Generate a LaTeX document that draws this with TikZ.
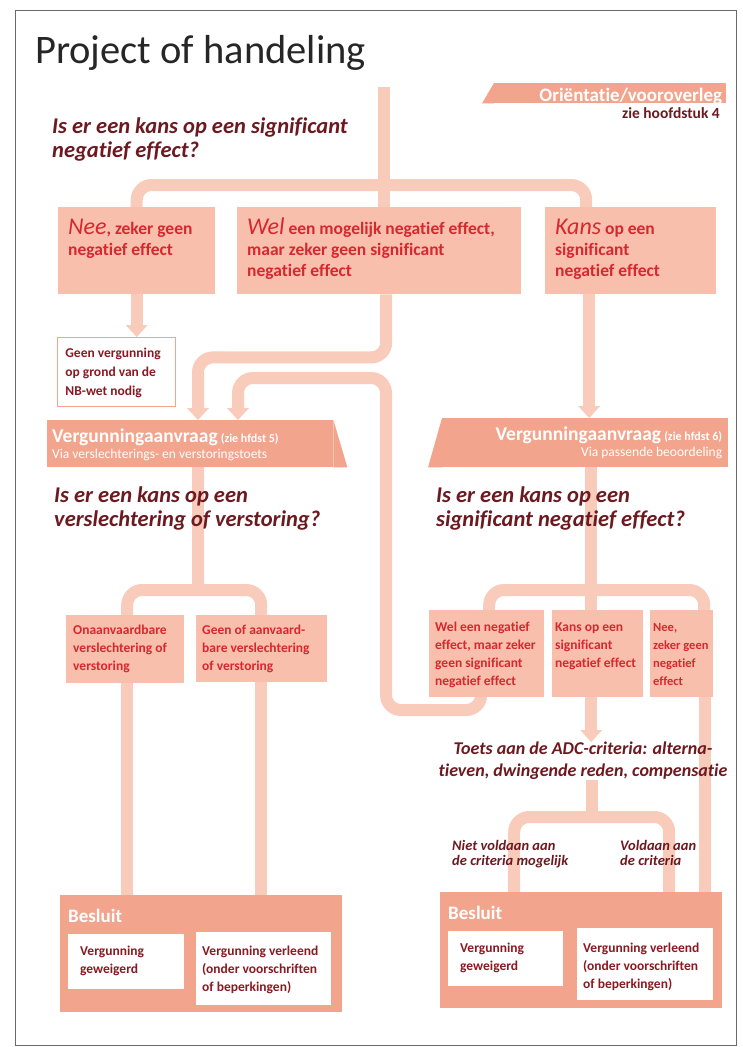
\documentclass[tikz,border=0pt]{standalone}
\usepackage{fontspec}
\setmainfont{Carlito}[Ligatures={NoCommon}]
\usetikzlibrary{arrows.meta,backgrounds}
\definecolor{lnc}{HTML}{F8CBBB}
\definecolor{boxc}{HTML}{F8BFAD}
\definecolor{barc}{HTML}{F2A48C}
\definecolor{redt}{HTML}{D6282E}
\definecolor{qtc}{HTML}{6C1A20}
\definecolor{wtc}{HTML}{8A1A22}
\definecolor{frc}{HTML}{6A6A6A}
\newcommand{\bx}[4]{\parbox[t][#2][t]{#1}{\raggedright\rule{0pt}{#3}#4}}
\newcommand{\tx}[3]{\parbox[t]{#1}{\raggedright\rule{0pt}{#2}#3}}
\newcommand{\bigit}{\fontsize{24}{21}\mdseries\itshape\selectfont}
\begin{document}
\begin{tikzpicture}[x=1pt,y=-1pt,
 lnk/.style={draw=lnc, line width=12pt, rounded corners=15pt},
 arr/.style={lnk, -{Triangle[width=22pt,length=12pt,line width=0pt]}},
 fbox/.style={fill=boxc, inner ysep=0pt, anchor=north west, text=redt},
 topt/.style={font=\fontsize{17.5}{21}\bfseries\selectfont},
 lowt/.style={font=\fontsize{13.5}{18}\bfseries\selectfont},
 wbox/.style={fill=white, inner ysep=0pt, anchor=north west, text=wtc, font=\fontsize{13.5}{18}\bfseries\selectfont},
 bar/.style={fill=barc, inner ysep=0pt, anchor=north west, text=white},
 qst/.style={inner sep=0pt, anchor=north west, text=qtc, font=\fontsize{22.5}{24}\bfseries\itshape\selectfont},
 lbl/.style={inner sep=0pt, anchor=north west, text=qtc, font=\fontsize{14.5}{15.5}\bfseries\itshape\selectfont}
]
\useasboundingbox (0,0) rectangle (742,1047);
\draw[frc, line width=0.8pt] (15,10) rectangle (736,1045);

\node[anchor=base west, inner sep=0pt, text=black!85, font=\fontsize{40.5}{44}\selectfont] (title) at (35,63) {Project of handeling};

% tag
\node[bar, inner xsep=4pt, font=\fontsize{19}{20}\bfseries\selectfont] (tag) at (494,83) {\bx{224pt}{20pt}{18pt}{\raggedleft Oriëntatie/vooroverleg}};
\fill[barc] (tag.south west) -- ([xshift=-12pt]tag.south west) -- (tag.north west) -- cycle;
\node[anchor=base east, inner sep=0pt, text=qtc, font=\fontsize{15.5}{18}\bfseries\selectfont] (zie) at (720,118) {zie hoofdstuk 4};

\node[qst] (q1) at (52,113) {\tx{330pt}{20pt}{Is er een kans op een significant\\negatief effect?}};

% first level boxes
\node[fbox, topt, inner xsep=10pt] (A) at (58,207) {\bx{137pt}{87pt}{27pt}{{\bigit Nee}, zeker geen\\negatief effect}};
\node[fbox, topt, inner xsep=10pt] (B) at (237,207) {\bx{264pt}{87pt}{27pt}{{\bigit Wel} een mogelijk negatief effect,\\maar zeker geen significant\\negatief effect}};
\node[fbox, topt, inner xsep=10pt] (C) at (545,207) {\bx{151pt}{87pt}{27pt}{{\bigit Kans} op een\\significant\\negatief effect}};

\node[wbox, draw=barc, line width=0.8pt, inner xsep=8pt, font=\fontsize{13.5}{19}\bfseries\selectfont] (D) at (57,337) {\bx{102pt}{69pt}{20pt}{Geen vergunning\\op grond van de\\NB-wet nodig}};

% application bars
\node[bar, inner xsep=5pt, font=\fontsize{13.5}{16}\selectfont] (LV) at (47,420) {\bx{276pt}{47pt}{22pt}{{\fontsize{19.5}{16}\bfseries\selectfont Vergunningaanvraag} {\fontsize{12}{16}\bfseries\selectfont(zie hfdst 5)}\\Via verslechterings- en verstoringstoets}};
\fill[barc] (LV.north east) -- ([xshift=14pt]LV.south east) -- (LV.south east) -- cycle;
\node[bar, inner xsep=6pt, font=\fontsize{13.5}{16}\selectfont] (RV) at (442,418) {\bx{274pt}{49pt}{22pt}{\raggedleft{\fontsize{19.5}{16}\bfseries\selectfont Vergunningaanvraag} {\fontsize{12}{16}\bfseries\selectfont(zie hfdst 6)}\\Via passende beoordeling}};
\fill[barc] (RV.north west) -- ([xshift=-14pt]RV.south west) -- (RV.south west) -- cycle;

\node[qst] (q2l) at (54,482) {\tx{320pt}{20pt}{Is er een kans op een\\verslechtering of verstoring?}};
\node[qst] (q2r) at (436,482) {\tx{295pt}{20pt}{Is er een kans op een\\significant negatief effect?}};

% lower boxes
\node[fbox, lowt, inner xsep=7pt] (LO) at (66,615) {\bx{104pt}{68pt}{19pt}{Onaanvaardbare\\verslechtering of\\verstoring}};
\node[fbox, lowt, inner xsep=6pt] (LG) at (196,615) {\bx{119pt}{67pt}{19pt}{Geen of aanvaard-\\bare verslechtering\\of verstoring}};
\node[fbox, lowt, inner xsep=6pt] (RW) at (429,610) {\bx{103pt}{87pt}{21pt}{Wel een negatief\\effect, maar zeker\\geen significant\\negatief effect}};
\node[fbox, lowt, inner xsep=3pt] (RK) at (552,610) {\bx{85pt}{87pt}{21pt}{Kans op een\\significant\\negatief effect}};
\node[fbox, inner xsep=3pt, font=\fontsize{12.5}{18}\bfseries\selectfont] (RN) at (650,610) {\bx{57pt}{87pt}{21pt}{Nee,\\zeker geen\\negatief\\effect}};

\node[inner sep=0pt, anchor=north, align=center, text=qtc, font=\fontsize{18}{22}\bfseries\itshape\selectfont] (toets) at (583,742) {Toets aan de ADC-criteria: alterna-\\tieven, dwingende reden, compensatie};

\node[lbl] (nv) at (452,837) {\tx{130pt}{13pt}{Niet voldaan aan\\de criteria mogelijk}};
\node[lbl] (va) at (620,837) {\tx{110pt}{13pt}{Voldaan aan\\de criteria}};

% decisions
\node[bar, inner xsep=8pt, font=\fontsize{19}{20}\bfseries\selectfont] (LB) at (60,895) {\bx{266pt}{117pt}{27pt}{Besluit}};
\node[bar, inner xsep=8pt, font=\fontsize{19}{20}\bfseries\selectfont] (RB) at (440,892) {\bx{266pt}{116pt}{27pt}{Besluit}};
\node[wbox, inner xsep=12pt] (LB1) at (68,934) {\bx{92pt}{55pt}{21pt}{Vergunning\\geweigerd}};
\node[wbox, inner xsep=6pt] (LB2) at (196,932) {\bx{123pt}{73pt}{23pt}{Vergunning verleend\\(onder voorschriften\\of beperkingen)}};
\node[wbox, inner xsep=12pt] (RB1) at (448,931) {\bx{91pt}{55pt}{21pt}{Vergunning\\geweigerd}};
\node[wbox, inner xsep=6pt] (RB2) at (577,928) {\bx{124pt}{72pt}{24pt}{Vergunning verleend\\(onder voorschriften\\of beperkingen)}};

% connectors
\begin{scope}[on background layer]
\fill[white] (0,0) rectangle (742,1047);
\coordinate (start) at (384,87);
\draw[lnk] (start) -- (start |- B.north);
\draw[lnk] (A.north) -- ++(0,-22) -| ([xshift=-44.5pt]C.north);
\draw[arr] (A.south) -- (A.south |- D.north);
\draw[arr] ([xshift=7pt]B.south) -- ++(0,63) -| ([xshift=151pt]LV.north west);
\draw[arr] ([xshift=-5.5pt,yshift=10pt]RW.south) |- (386,710) -- (386,378) -| ([xshift=191pt]LV.north west);
\draw[arr] ([xshift=-41.5pt]C.south) -- ([xshift=-41.5pt]C.south |- RV.north);
\draw[lnk] ([xshift=151pt]LV.south west) -- ++(0,123);
\draw[lnk] ([xshift=2pt]LO.north) -- ++(0,-25) -| ([xshift=-0.5pt]LG.north);
\draw[lnk] ([xshift=2pt]LO.south) -- ([xshift=2pt]LO.south |- LB.north);
\draw[lnk] ([xshift=-0.5pt]LG.south) -- ([xshift=-0.5pt]LG.south |- LB.north);
\draw[lnk] ([xshift=149pt]RV.south west) -- ([xshift=149pt]RV.south west |- RK.north);
\draw[lnk] ([xshift=2.5pt]RW.north) -- ++(0,-20) -| ([xshift=22.5pt]RN.north);
\draw[arr] ([xshift=-6.5pt]RK.south) -- ([xshift=-6.5pt]RK.south |- toets.north);
\draw[lnk] ([xshift=23pt]RN.south) -- ([xshift=23pt]RN.south |- RB.north);
\draw[lnk] ([xshift=9pt]toets.south) -- ++(0,32);
\draw[lnk] ([xshift=-67pt]RB.north) -- ++(0,-75) -| ([xshift=88pt]RB.north);
\end{scope}
\end{tikzpicture}
\end{document}
